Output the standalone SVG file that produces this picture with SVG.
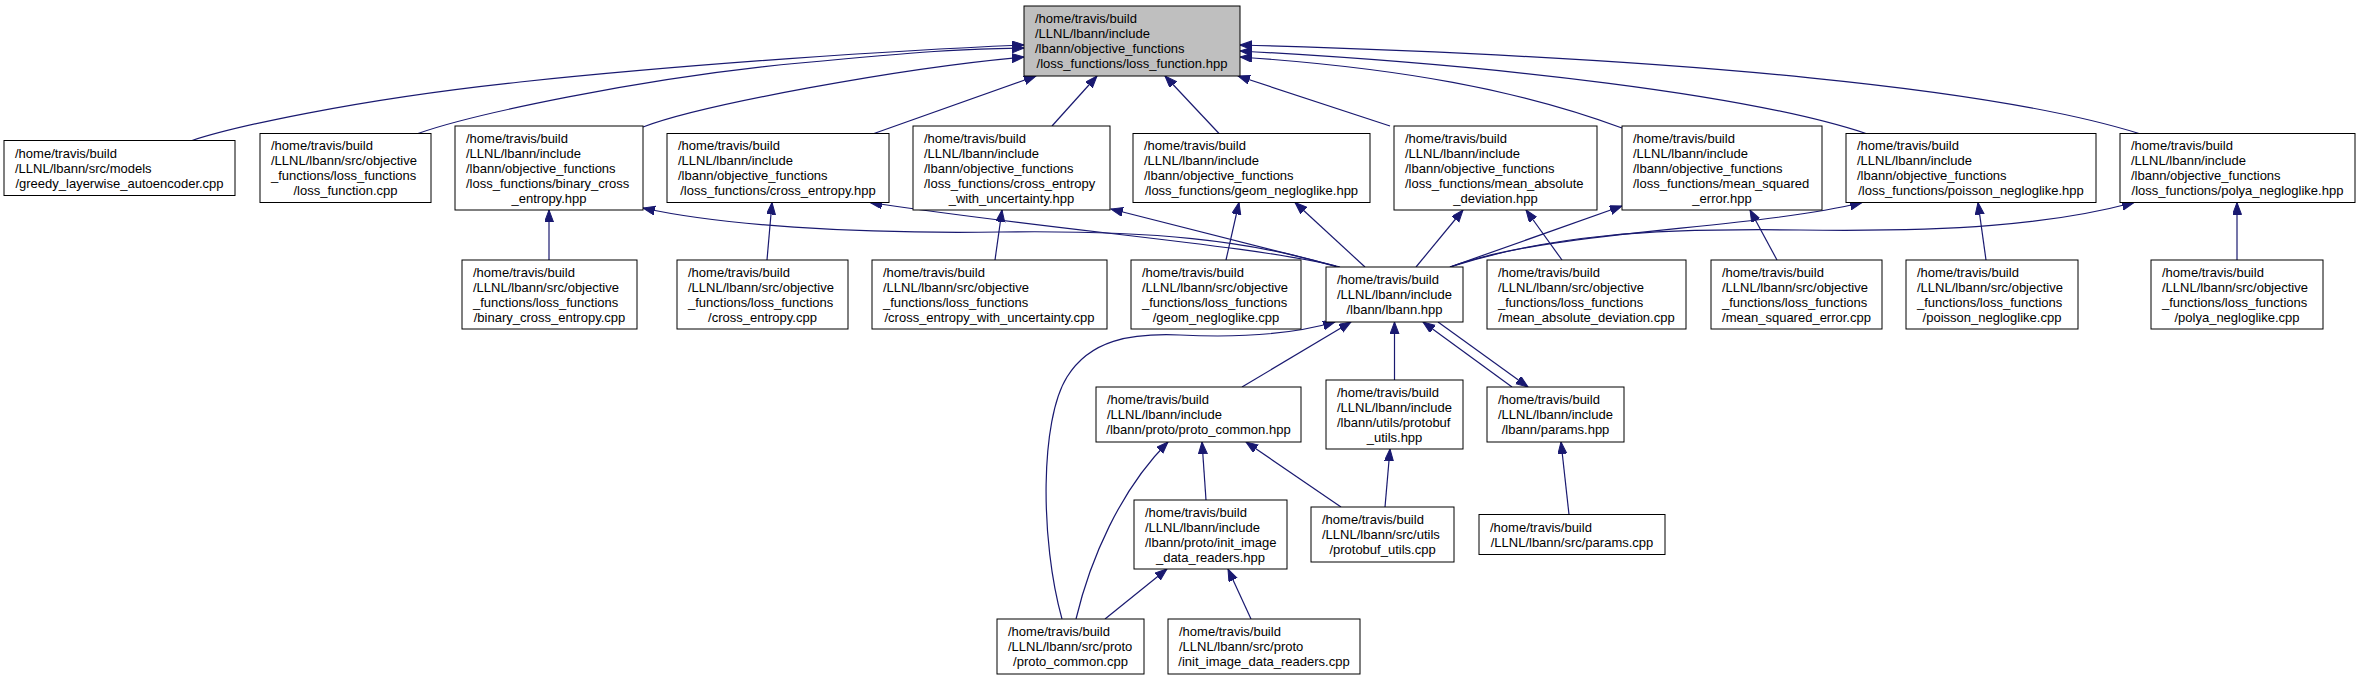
<svg xmlns="http://www.w3.org/2000/svg" width="2357" height="680" viewBox="0 0 2357 680">
<style>
.n rect{fill:#ffffff;stroke:#000000;stroke-width:1}
.n.main rect{fill:#bfbfbf}
.n text{font-family:"Liberation Sans",Arial,sans-serif;font-size:13px;fill:#000000}
.c{fill:#ffffff}
.e path{fill:none;stroke:#191970;stroke-width:1.2;marker-end:url(#ah)}
</style>
<defs>
<marker id="ah" markerUnits="userSpaceOnUse" markerWidth="13" markerHeight="10" refX="12" refY="4.5" orient="auto">
<path d="M0,0 L12,4.5 L0,9 z" fill="#191970" stroke="#191970" stroke-width="1"/>
</marker>
</defs>
<rect x="0" y="0" width="2357" height="680" fill="#ffffff"/>
<g id="edges" class="e">
<path d="M192,140.5 C230,128 350,100 520,82 S900,50 1024,45"/>
<path d="M418,133.5 C470,115 640,78 800,63 S960,50 1024,48"/>
<path d="M643,127 C700,105 900,68 1024,57"/>
<path d="M874,133.5 L1036,76"/>
<path d="M1052,126 L1097,76"/>
<path d="M1219,133.5 L1165,76"/>
<path d="M1390,126 L1238,76"/>
<path d="M1622,128 C1520,90 1400,68 1240,57"/>
<path d="M1866,133.5 C1750,95 1500,65 1240,51"/>
<path d="M2139,133.5 C2000,90 1700,58 1240,45"/>
<path d="M549,260 L549,210"/>
<path d="M767,260 L772,202.5"/>
<path d="M995,260 L1002,210"/>
<path d="M1226,260 L1239,202.5"/>
<path d="M1562,260 L1526,210"/>
<path d="M1777,260 L1750,210"/>
<path d="M1986,260 L1978,202.5"/>
<path d="M2237,260 L2237,202.5"/>
<path d="M1337,267 C1250,240 1150,230 1000,232 C850,234 720,225 643,208"/>
<path d="M1336,266 C1250,245 1050,230 870,202.5"/>
<path d="M1340,267 L1111,209"/>
<path d="M1365,267 L1295,202.5"/>
<path d="M1416,267 L1463,210"/>
<path d="M1450,267 L1622,206"/>
<path d="M1450,267 C1550,230 1750,230 1862,202.5"/>
<path d="M1450,267 C1550,235 1650,228 1800,230 C1950,232 2050,225 2134,202.5"/>
<path d="M1242,387 L1351,322"/>
<path d="M1062,619 C1040,540 1040,420 1067,377 C1090,340 1130,333 1180,335 C1240,338 1290,335 1335,322"/>
<path d="M1394.5,380 L1394.5,322"/>
<path d="M1512,387 L1423,322"/>
<path d="M1438,322 L1528,387"/>
<path d="M1206,500 L1202,442"/>
<path d="M1341,507 L1246,442"/>
<path d="M1076,619 C1090,560 1120,490 1168,442"/>
<path d="M1105,619 L1167,569"/>
<path d="M1251,619 L1228,569"/>
<path d="M1385,507 L1390,449"/>
<path d="M1569,514.5 L1561,442"/>
</g>
<g id="n_main" class="n main"><rect x="1024" y="6" width="216" height="70"/>
<text><tspan x="1035" y="23">/home/travis/build</tspan><tspan x="1035" y="38">/LLNL/lbann/include</tspan><tspan x="1035" y="53">/lbann/objective_functions</tspan><tspan x="1132" y="68" text-anchor="middle">/loss_functions/loss_function.hpp</tspan></text></g>
<g id="n_greedy" class="n"><rect x="4" y="140.5" width="231" height="55"/>
<text><tspan x="15" y="157.5">/home/travis/build</tspan><tspan x="15" y="172.5">/LLNL/lbann/src/models</tspan><tspan x="119.5" y="187.5" text-anchor="middle">/greedy_layerwise_autoencoder.cpp</tspan></text></g>
<g id="n_lfcpp" class="n"><rect x="260" y="133.5" width="171" height="69"/>
<text><tspan x="271" y="150">/home/travis/build</tspan><tspan x="271" y="165">/LLNL/lbann/src/objective</tspan><tspan x="271" y="180">_functions/loss_functions</tspan><tspan x="345.5" y="195" text-anchor="middle">/loss_function.cpp</tspan></text></g>
<g id="n_bceh" class="n"><rect x="455" y="126" width="188" height="84"/>
<text><tspan x="466" y="142.5">/home/travis/build</tspan><tspan x="466" y="157.5">/LLNL/lbann/include</tspan><tspan x="466" y="172.5">/lbann/objective_functions</tspan><tspan x="466" y="187.5">/loss_functions/binary_cross</tspan><tspan x="549" y="202.5" text-anchor="middle">_entropy.hpp</tspan></text></g>
<g id="n_ceh" class="n"><rect x="667" y="133.5" width="222" height="69"/>
<text><tspan x="678" y="150">/home/travis/build</tspan><tspan x="678" y="165">/LLNL/lbann/include</tspan><tspan x="678" y="180">/lbann/objective_functions</tspan><tspan x="778" y="195" text-anchor="middle">/loss_functions/cross_entropy.hpp</tspan></text></g>
<g id="n_cwuh" class="n"><rect x="913" y="126" width="197" height="84"/>
<text><tspan x="924" y="142.5">/home/travis/build</tspan><tspan x="924" y="157.5">/LLNL/lbann/include</tspan><tspan x="924" y="172.5">/lbann/objective_functions</tspan><tspan x="924" y="187.5">/loss_functions/cross_entropy</tspan><tspan x="1011.5" y="202.5" text-anchor="middle">_with_uncertainty.hpp</tspan></text></g>
<g id="n_geomh" class="n"><rect x="1133" y="133.5" width="237" height="69"/>
<text><tspan x="1144" y="150">/home/travis/build</tspan><tspan x="1144" y="165">/LLNL/lbann/include</tspan><tspan x="1144" y="180">/lbann/objective_functions</tspan><tspan x="1251.5" y="195" text-anchor="middle">/loss_functions/geom_negloglike.hpp</tspan></text></g>
<g id="n_madh" class="n"><rect x="1394" y="126" width="203" height="84"/>
<text><tspan x="1405" y="142.5">/home/travis/build</tspan><tspan x="1405" y="157.5">/LLNL/lbann/include</tspan><tspan x="1405" y="172.5">/lbann/objective_functions</tspan><tspan x="1405" y="187.5">/loss_functions/mean_absolute</tspan><tspan x="1495.5" y="202.5" text-anchor="middle">_deviation.hpp</tspan></text></g>
<g id="n_mseh" class="n"><rect x="1622" y="126" width="200" height="84"/>
<text><tspan x="1633" y="142.5">/home/travis/build</tspan><tspan x="1633" y="157.5">/LLNL/lbann/include</tspan><tspan x="1633" y="172.5">/lbann/objective_functions</tspan><tspan x="1633" y="187.5">/loss_functions/mean_squared</tspan><tspan x="1722" y="202.5" text-anchor="middle">_error.hpp</tspan></text></g>
<g id="n_poish" class="n"><rect x="1846" y="133.5" width="250" height="69"/>
<text><tspan x="1857" y="150">/home/travis/build</tspan><tspan x="1857" y="165">/LLNL/lbann/include</tspan><tspan x="1857" y="180">/lbann/objective_functions</tspan><tspan x="1971" y="195" text-anchor="middle">/loss_functions/poisson_negloglike.hpp</tspan></text></g>
<g id="n_polyah" class="n"><rect x="2120" y="133.5" width="235" height="69"/>
<text><tspan x="2131" y="150">/home/travis/build</tspan><tspan x="2131" y="165">/LLNL/lbann/include</tspan><tspan x="2131" y="180">/lbann/objective_functions</tspan><tspan x="2237.5" y="195" text-anchor="middle">/loss_functions/polya_negloglike.hpp</tspan></text></g>
<g id="n_bcec" class="n"><rect x="462" y="260" width="175" height="69"/>
<text><tspan x="473" y="276.5">/home/travis/build</tspan><tspan x="473" y="291.5">/LLNL/lbann/src/objective</tspan><tspan x="473" y="306.5">_functions/loss_functions</tspan><tspan x="549.5" y="321.5" text-anchor="middle">/binary_cross_entropy.cpp</tspan></text></g>
<g id="n_cec" class="n"><rect x="677" y="260" width="171" height="69"/>
<text><tspan x="688" y="276.5">/home/travis/build</tspan><tspan x="688" y="291.5">/LLNL/lbann/src/objective</tspan><tspan x="688" y="306.5">_functions/loss_functions</tspan><tspan x="762.5" y="321.5" text-anchor="middle">/cross_entropy.cpp</tspan></text></g>
<g id="n_cwuc" class="n"><rect x="872" y="260" width="235" height="69"/>
<text><tspan x="883" y="276.5">/home/travis/build</tspan><tspan x="883" y="291.5">/LLNL/lbann/src/objective</tspan><tspan x="883" y="306.5">_functions/loss_functions</tspan><tspan x="989.5" y="321.5" text-anchor="middle">/cross_entropy_with_uncertainty.cpp</tspan></text></g>
<g id="n_geomc" class="n"><rect x="1131" y="260" width="170" height="69"/>
<text><tspan x="1142" y="276.5">/home/travis/build</tspan><tspan x="1142" y="291.5">/LLNL/lbann/src/objective</tspan><tspan x="1142" y="306.5">_functions/loss_functions</tspan><tspan x="1216" y="321.5" text-anchor="middle">/geom_negloglike.cpp</tspan></text></g>
<g id="n_lbann" class="n"><rect x="1326" y="267" width="137" height="55"/>
<text><tspan x="1337" y="284">/home/travis/build</tspan><tspan x="1337" y="299">/LLNL/lbann/include</tspan><tspan x="1394.5" y="314" text-anchor="middle">/lbann/lbann.hpp</tspan></text></g>
<g id="n_madc" class="n"><rect x="1487" y="260" width="199" height="69"/>
<text><tspan x="1498" y="276.5">/home/travis/build</tspan><tspan x="1498" y="291.5">/LLNL/lbann/src/objective</tspan><tspan x="1498" y="306.5">_functions/loss_functions</tspan><tspan x="1586.5" y="321.5" text-anchor="middle">/mean_absolute_deviation.cpp</tspan></text></g>
<g id="n_msec" class="n"><rect x="1711" y="260" width="171" height="69"/>
<text><tspan x="1722" y="276.5">/home/travis/build</tspan><tspan x="1722" y="291.5">/LLNL/lbann/src/objective</tspan><tspan x="1722" y="306.5">_functions/loss_functions</tspan><tspan x="1796.5" y="321.5" text-anchor="middle">/mean_squared_error.cpp</tspan></text></g>
<g id="n_poisc" class="n"><rect x="1906" y="260" width="172" height="69"/>
<text><tspan x="1917" y="276.5">/home/travis/build</tspan><tspan x="1917" y="291.5">/LLNL/lbann/src/objective</tspan><tspan x="1917" y="306.5">_functions/loss_functions</tspan><tspan x="1992" y="321.5" text-anchor="middle">/poisson_negloglike.cpp</tspan></text></g>
<g id="n_polyac" class="n"><rect x="2151" y="260" width="172" height="69"/>
<text><tspan x="2162" y="276.5">/home/travis/build</tspan><tspan x="2162" y="291.5">/LLNL/lbann/src/objective</tspan><tspan x="2162" y="306.5">_functions/loss_functions</tspan><tspan x="2237" y="321.5" text-anchor="middle">/polya_negloglike.cpp</tspan></text></g>
<g id="n_pch" class="n"><rect x="1096" y="387" width="205" height="55"/>
<text><tspan x="1107" y="404">/home/travis/build</tspan><tspan x="1107" y="419">/LLNL/lbann/include</tspan><tspan x="1198.5" y="434" text-anchor="middle">/lbann/proto/proto_common.hpp</tspan></text></g>
<g id="n_puh" class="n"><rect x="1326" y="380" width="137" height="69"/>
<text><tspan x="1337" y="396.5">/home/travis/build</tspan><tspan x="1337" y="411.5">/LLNL/lbann/include</tspan><tspan x="1337" y="426.5">/lbann/utils/protobuf</tspan><tspan x="1394.5" y="441.5" text-anchor="middle">_utils.hpp</tspan></text></g>
<g id="n_parh" class="n"><rect x="1487" y="387" width="137" height="55"/>
<text><tspan x="1498" y="404">/home/travis/build</tspan><tspan x="1498" y="419">/LLNL/lbann/include</tspan><tspan x="1555.5" y="434" text-anchor="middle">/lbann/params.hpp</tspan></text></g>
<g id="n_iidrh" class="n"><rect x="1134" y="500" width="153" height="69"/>
<text><tspan x="1145" y="516.5">/home/travis/build</tspan><tspan x="1145" y="531.5">/LLNL/lbann/include</tspan><tspan x="1145" y="546.5">/lbann/proto/init_image</tspan><tspan x="1210.5" y="561.5" text-anchor="middle">_data_readers.hpp</tspan></text></g>
<g id="n_puc" class="n"><rect x="1311" y="507" width="143" height="55"/>
<text><tspan x="1322" y="524">/home/travis/build</tspan><tspan x="1322" y="539">/LLNL/lbann/src/utils</tspan><tspan x="1382.5" y="554" text-anchor="middle">/protobuf_utils.cpp</tspan></text></g>
<g id="n_parc" class="n"><rect x="1479" y="514.5" width="186" height="40"/>
<text><tspan x="1490" y="531.5">/home/travis/build</tspan><tspan x="1572" y="546.5" text-anchor="middle">/LLNL/lbann/src/params.cpp</tspan></text></g>
<g id="n_pcc" class="n"><rect x="997" y="619" width="147" height="55"/>
<text><tspan x="1008" y="636">/home/travis/build</tspan><tspan x="1008" y="651">/LLNL/lbann/src/proto</tspan><tspan x="1070.5" y="666" text-anchor="middle">/proto_common.cpp</tspan></text></g>
<g id="n_iidrc" class="n"><rect x="1168" y="619" width="192" height="55"/>
<text><tspan x="1179" y="636">/home/travis/build</tspan><tspan x="1179" y="651">/LLNL/lbann/src/proto</tspan><tspan x="1264" y="666" text-anchor="middle">/init_image_data_readers.cpp</tspan></text></g>
</svg>
